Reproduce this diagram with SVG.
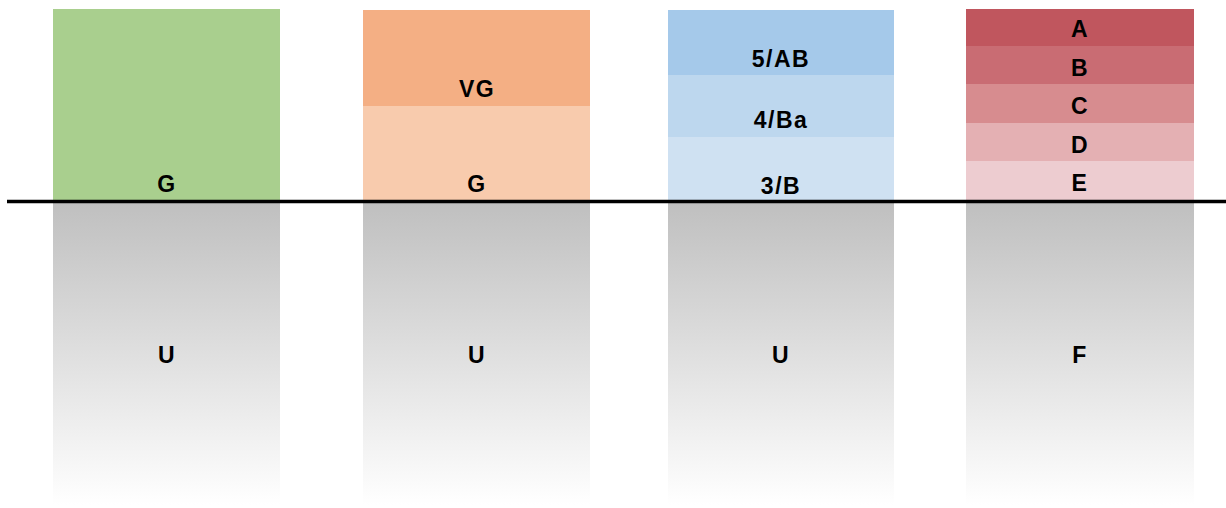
<svg xmlns="http://www.w3.org/2000/svg" width="1226" height="508" viewBox="0 0 1226 508">
<defs>
<linearGradient id="soil" x1="0" y1="0" x2="0" y2="1">
<stop offset="0" stop-color="#BFBFBF"/>
<stop offset="1" stop-color="#FFFFFF"/>
</linearGradient>
<style>
text{font-family:"Liberation Sans",Arial,sans-serif;font-weight:bold;font-size:23px;letter-spacing:1.5px;fill:#000;text-anchor:middle}
.soil{fill:url(#soil)}
</style>
</defs>
<rect width="1226" height="508" fill="#FFFFFF"/>
<g id="col1">
<rect x="53" y="9" width="227" height="192" fill="#A9CF8E"/>
<rect class="soil" x="53" y="201" width="227" height="304"/>
<text x="167" y="192">G</text>
<text x="167" y="363">U</text>
</g>
<g id="col2">
<rect x="363" y="10" width="227" height="96" fill="#F4AF84"/>
<rect x="363" y="106" width="227" height="95" fill="#F8CBAD"/>
<rect class="soil" x="363" y="201" width="227" height="304"/>
<text x="477" y="97">VG</text>
<text x="477" y="192">G</text>
<text x="477" y="363">U</text>
</g>
<g id="col3">
<rect x="668" y="10" width="226" height="65" fill="#A5C9EA"/>
<rect x="668" y="75" width="226" height="62" fill="#BDD7EE"/>
<rect x="668" y="137" width="226" height="64" fill="#CFE1F2"/>
<rect class="soil" x="668" y="201" width="226" height="304"/>
<text x="781" y="67">5/AB</text>
<text x="781" y="128">4/Ba</text>
<text x="781" y="194">3/B</text>
<text x="781" y="363">U</text>
</g>
<g id="col4">
<rect x="966" y="9" width="228" height="37" fill="#C0565E"/>
<rect x="966" y="46" width="228" height="38" fill="#C96C73"/>
<rect x="966" y="84" width="228" height="39" fill="#D78C8F"/>
<rect x="966" y="123" width="228" height="38" fill="#E4B0B3"/>
<rect x="966" y="161" width="228" height="40" fill="#EDCCD0"/>
<rect class="soil" x="966" y="201" width="228" height="304"/>
<text x="1080" y="37">A</text>
<text x="1080" y="76">B</text>
<text x="1080" y="114">C</text>
<text x="1080" y="153">D</text>
<text x="1080" y="191">E</text>
<text x="1080" y="363">F</text>
</g>
<g id="connectors">
<line x1="7" y1="201.5" x2="1226" y2="201.5" stroke="#000" stroke-width="3.5"/>
</g>
</svg>
